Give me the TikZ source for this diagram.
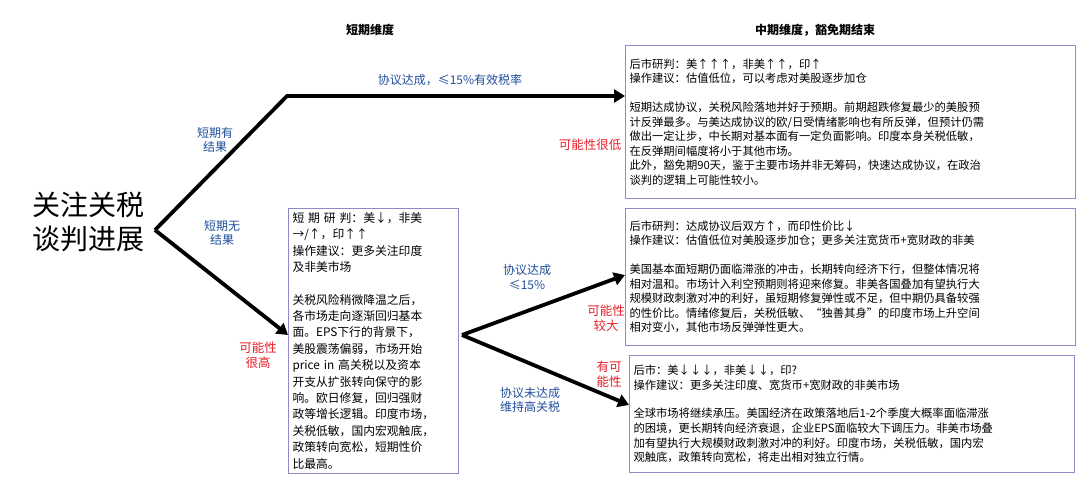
\documentclass[tikz,border=0pt]{standalone}
\usepackage{fontspec}
\setmainfont{Noto Sans CJK SC}
\usetikzlibrary{arrows.meta}
\definecolor{bx}{HTML}{8C8CC8}
\definecolor{bl}{HTML}{1F4E9A}
\definecolor{rd}{HTML}{E8202A}
\tikzset{
 txtbox/.style={draw=bx,line width=1pt,align=left,anchor=north west,inner sep=4pt,font=\fontsize{11.3}{14.6}\selectfont},
 arr/.style={line width=3.8pt,-{Triangle[length=11pt,width=13pt]}},
 blab/.style={text=bl,font=\fontsize{12}{14.5}\selectfont,align=center},
 rlab/.style={text=rd,font=\fontsize{12.5}{15}\selectfont,align=center},
 head/.style={font=\bfseries\fontsize{12}{14}\selectfont}
}
\begin{document}
\begin{tikzpicture}[x=1pt,y=-1pt]
\useasboundingbox (0,0) rectangle (1080,492);
\node[font=\fontsize{28}{34}\selectfont,align=center] (title) at (88,222) {关注关税\\谈判进展};
\coordinate (root) at (155,230);
\coordinate (bend) at (287,96);
\coordinate (fork) at (462,335);
\node[head] (h1) at (370,30) {短期维度};
\node[head] (h2) at (815,30) {中期维度，豁免期结束};
\node[txtbox,text width=162pt,font=\fontsize{11.8}{16.4}\selectfont] (mid) at (288,208) {短 期 研 判：美↓，非美\\→/↑，印↑↑\\操作建议：更多关注印度\\及非美市场\\[16pt]关税风险稍微降温之后，\\各市场走向逐渐回归基本\\面。EPS下行的背景下，\\美股震荡偏弱，市场开始\\price in 高关税以及资本\\开支从扩张转向保守的影\\响。欧日修复，回归强财\\政等增长逻辑。印度市场，\\关税低敏，国内宏观触底，\\政策转向宽松，短期性价\\比最高。};
\node[txtbox,text width=442pt,minimum height=153pt] (b1) at (625,45) {后市研判：美↑↑↑，非美↑↑，印↑\\操作建议：估值低位，可以考虑对美股逐步加仓\\[14pt]短期达成协议，关税风险落地并好于预期。前期超跌修复最少的美股预\\计反弹最多。与美达成协议的欧/日受情绪影响也有所反弹，但预计仍需\\做出一定让步，中长期对基本面有一定负面影响。印度本身关税低敏，\\在反弹期间幅度将小于其他市场。\\此外，豁免期90天，鉴于主要市场并非无筹码，快速达成协议，在政治\\谈判的逻辑上可能性较小。};
\node[txtbox,text width=442pt,minimum height=137pt] (b2) at (625,208) {后市研判：达成协议后双方↑，而印性价比↓\\操作建议：估值低位对美股逐步加仓；更多关注宽货币+宽财政的非美\\[14pt]美国基本面短期仍面临滞涨的冲击，长期转向经济下行，但整体情况将\\相对温和。市场计入利空预期则将迎来修复。非美各国叠加有望执行大\\规模财政刺激对冲的利好，虽短期修复弹性或不足，但中期仍具备较强\\的性价比。情绪修复后，关税低敏、“独善其身”的印度市场上升空间\\相对变小，其他市场反弹弹性更大。};
\node[txtbox,text width=437pt,minimum height=117pt] (b3) at (629,355) {后市：美↓↓↓，非美↓↓，印?\\操作建议：更多关注印度、宽货币+宽财政的非美市场\\[14pt]全球市场将继续承压。美国经济在政策落地后1-2个季度大概率面临滞涨\\的困境，更长期转向经济衰退，企业EPS面临较大下调压力。非美市场叠\\加有望执行大规模财政刺激对冲的利好。印度市场，关税低敏，国内宏\\观触底，政策转向宽松，将走出相对独立行情。};
\draw[arr] (root) -- (bend) -- (b1.west|-bend);
\draw[arr] (root) -- (mid.west|-fork);
\draw[arr] (fork) -- (b2.west|-0,275);
\draw[arr] (fork) -- (b3.west|-0,405);
\node[blab] (l1) at (215,140) {短期有\\结果};
\node[blab] (l2) at (222,233) {短期无\\结果};
\node[blab] (l3) at (450,80) {协议达成，≤15\%有效税率};
\node[blab] (l4) at (527,277) {协议达成\\≤15\%};
\node[blab] (l5) at (530,400) {协议未达成\\维持高关税};
\node[rlab] (r1) at (590,145) {可能性很低};
\node[rlab] (r2) at (258,355) {可能性\\很高};
\node[rlab] (r3) at (606,318) {可能性\\较大};
\node[rlab] (r4) at (609,374) {有可\\能性};
\end{tikzpicture}
\end{document}
